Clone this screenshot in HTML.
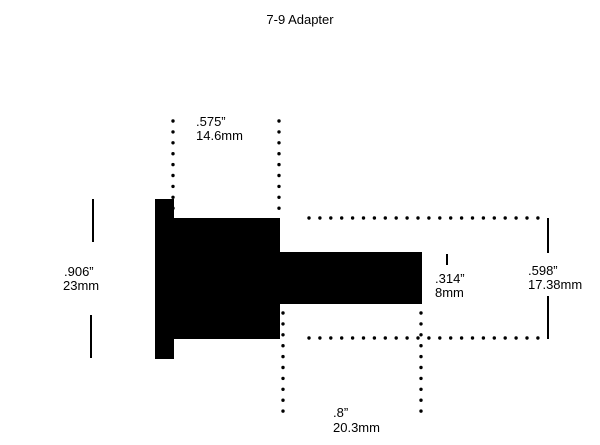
<!DOCTYPE html>
<html><head><style>
body{margin:0;background:#fff;width:600px;height:445px;overflow:hidden}
svg{display:block}
text{font-family:"Liberation Sans",sans-serif;font-size:13px;fill:#000}
.d{stroke:#000;stroke-width:3.4;stroke-linecap:round;stroke-dasharray:0 10.9;fill:none}
</style></head><body>
<svg width="600" height="445" viewBox="0 0 600 445">
<text x="300" y="24" text-anchor="middle">7-9 Adapter</text>
<rect x="155" y="199" width="19" height="160" fill="#000"/>
<rect x="173" y="218" width="107" height="121" fill="#000"/>
<rect x="279" y="252" width="143" height="52" fill="#000"/>
<line class="d" x1="173" y1="121" x2="173" y2="210"/>
<line class="d" x1="279" y1="121" x2="279" y2="209"/>
<line class="d" x1="309" y1="218" x2="546" y2="218"/>
<line class="d" x1="309" y1="338" x2="546" y2="338"/>
<line class="d" x1="283" y1="313" x2="283" y2="412"/>
<line class="d" x1="421" y1="313" x2="421" y2="412"/>
<line x1="548" y1="218" x2="548" y2="253" stroke="#000" stroke-width="2"/>
<line x1="548" y1="296" x2="548" y2="339" stroke="#000" stroke-width="2"/>
<line x1="93" y1="199" x2="93" y2="242" stroke="#000" stroke-width="2"/>
<line x1="91" y1="315" x2="91" y2="358" stroke="#000" stroke-width="2"/>
<line x1="447" y1="254" x2="447" y2="265" stroke="#000" stroke-width="2"/>
<text x="196" y="126">.575”</text>
<text x="196" y="140">14.6mm</text>
<text x="64" y="276">.906”</text>
<text x="63" y="290">23mm</text>
<text x="435" y="283">.314”</text>
<text x="435" y="297">8mm</text>
<text x="528" y="275">.598”</text>
<text x="528" y="289">17.38mm</text>
<text x="333" y="417">.8”</text>
<text x="333" y="432">20.3mm</text>
</svg>
</body></html>
